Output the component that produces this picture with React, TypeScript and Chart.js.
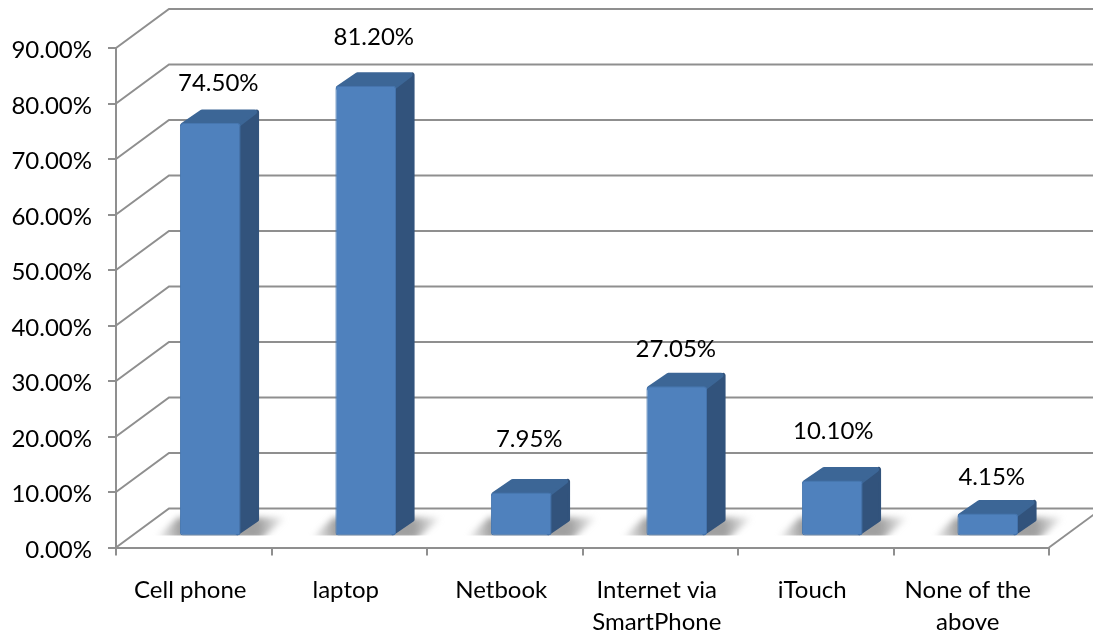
import React, { useEffect, useRef } from "react";
import { Chart, registerables } from "chart.js";

Chart.register(...registerables);

const categories: (string | string[])[] = [
  "Cell phone",
  "laptop",
  "Netbook",
  ["Internet via", "SmartPhone"],
  "iTouch",
  ["None of the", "above"],
];
const values = [74.5, 81.2, 7.95, 27.05, 10.1, 4.15];
const valueLabels = ["74.50%", "81.20%", "7.95%", "27.05%", "10.10%", "4.15%"];
const labelShiftX = [8, 8, 8, -1, 1, 4];
const labelShiftY = [-40, -49, -53, -37, -49, -36];

const WIDTH = 1093;
const HEIGHT = 633;
const FONT = "Lato, 'Open Sans', sans-serif";
const GRID = "#8f8f8f";
const WALL_DX = 53;
const WALL_DY = 39;
const BAR_DX = 16.5;
const BAR_DY = 11;
const SIDE_DX = 19;
const SIDE_DY = 14;

const poly = (ctx: CanvasRenderingContext2D, pts: number[][]) => {
  ctx.beginPath();
  pts.forEach((p, i) => (i ? ctx.lineTo(p[0], p[1]) : ctx.moveTo(p[0], p[1])));
  ctx.closePath();
};

const scene3d = {
  id: "scene3d",
  beforeDatasetsDraw(chart: any) {
    const { ctx, chartArea, scales } = chart;
    const { left, right, bottom } = chartArea;
    ctx.save();
    ctx.strokeStyle = GRID;
    ctx.lineWidth = 2;
    ctx.lineJoin = "miter";
    scales.y.ticks.forEach((t: any) => {
      const y = scales.y.getPixelForValue(t.value);
      ctx.beginPath();
      ctx.moveTo(left, y);
      ctx.lineTo(left + WALL_DX, y - WALL_DY);
      ctx.lineTo(WIDTH + 5, y - WALL_DY);
      ctx.stroke();
    });
    ctx.beginPath();
    ctx.moveTo(right, bottom);
    ctx.lineTo(right + WALL_DX, bottom - WALL_DY);
    ctx.stroke();

    const meta = chart.getDatasetMeta(0);
    meta.data.forEach((bar: any) => {
      const l = bar.x - bar.width / 2 + BAR_DX;
      const r = bar.x + bar.width / 2 + BAR_DX;
      const b = bar.base - BAR_DY;
      ctx.save();
      ctx.beginPath();
      ctx.rect(l - 30, b - 30, r - l + 90, 30);
      ctx.clip();
      const g = ctx.createLinearGradient(l - 24, 0, r + 46, 0);
      const w = r + 46 - (l - 24);
      g.addColorStop(0, "rgba(150,150,150,0)");
      g.addColorStop(24 / w, "rgba(150,150,150,0.9)");
      g.addColorStop((r - l + 24 + 18) / w, "rgba(150,150,150,0.9)");
      g.addColorStop(1, "rgba(150,150,150,0)");
      ctx.filter = "blur(3px)";
      ctx.fillStyle = g;
      poly(ctx, [
        [l - 26, b + 4],
        [l - 2, b - 18],
        [r + 46, b - 18],
        [r + 20, b + 4],
      ]);
      ctx.fill();
      ctx.restore();
    });
    ctx.restore();
  },
  beforeDatasetDraw(chart: any) {
    const { ctx } = chart;
    const meta = chart.getDatasetMeta(0);
    ctx.save();
    ctx.lineJoin = "round";
    ctx.lineWidth = 5;
    meta.data.forEach((bar: any) => {
      const l = bar.x - bar.width / 2 + BAR_DX;
      const r = bar.x + bar.width / 2 + BAR_DX;
      const t = bar.y - BAR_DY;
      const b = bar.base - BAR_DY;
      ctx.fillStyle = ctx.strokeStyle = "#32537c";
      poly(ctx, [
        [r - 3, t + 2],
        [r + SIDE_DX - 3, t - SIDE_DY + 3],
        [r + SIDE_DX - 3, b - SIDE_DY - 2],
        [r - 3, b - 3],
      ]);
      ctx.stroke();
      ctx.fill();
      ctx.fillStyle = ctx.strokeStyle = "#3c6696";
      poly(ctx, [
        [l + 3, t + 2],
        [l + SIDE_DX + 3, t - SIDE_DY + 3],
        [r + SIDE_DX - 5, t - SIDE_DY + 3],
        [r - 3, t + 2],
      ]);
      ctx.stroke();
      ctx.fill();
    });
    ctx.restore();
    ctx.save();
    ctx.translate(BAR_DX, -BAR_DY);
  },
  afterDatasetDraw(chart: any) {
    chart.ctx.restore();
  },
  afterDatasetsDraw(chart: any) {
    const { ctx } = chart;
    const meta = chart.getDatasetMeta(0);
    ctx.save();
    ctx.fillStyle = "#000";
    ctx.font = `24px ${FONT}`;
    ctx.textAlign = "center";
    ctx.textBaseline = "middle";
    meta.data.forEach((bar: any, i: number) => {
      ctx.fillText(
        valueLabels[i],
        bar.x + BAR_DX + labelShiftX[i],
        bar.y - BAR_DY + labelShiftY[i]
      );
    });
    ctx.restore();
  },
};

export default function App() {
  const ref = useRef<HTMLCanvasElement>(null);
  useEffect(() => {
    document.body.style.margin = "0";
    document.body.style.overflow = "hidden";
    const chart = new Chart(ref.current!, {
      type: "bar",
      data: {
        labels: categories as any,
        datasets: [
          {
            data: values,
            backgroundColor: "#4f81bd",
            borderColor: "#4676af",
            borderWidth: 1,
            borderRadius: 3,
            borderSkipped: false,
            barPercentage: 0.39,
            categoryPercentage: 1,
          },
        ],
      },
      options: {
        responsive: false,
        animation: false,
        devicePixelRatio: 1,
        layout: { padding: { top: 48, right: 44, left: 0, bottom: 0 } },
        plugins: { legend: { display: false }, tooltip: { enabled: false } },
        scales: {
          x: {
            afterFit: (s: any) => {
              s.height = HEIGHT - 547.5;
            },
            grid: { drawOnChartArea: false, color: GRID, lineWidth: 2, tickLength: 8 },
            border: { color: GRID, width: 2 },
            ticks: {
              color: "#000",
              font: { family: FONT, size: 24, lineHeight: 1.33 },
              maxRotation: 0,
              autoSkip: false,
              padding: 19,
              labelOffset: -3.5,
            },
          },
          y: {
            min: 0,
            max: 90,
            afterFit: (s: any) => {
              s.width = 116;
            },
            grid: { drawOnChartArea: false, color: GRID, lineWidth: 2, tickLength: 8 },
            border: { color: GRID, width: 2 },
            ticks: {
              stepSize: 10,
              color: "#000",
              font: { family: FONT, size: 24 },
              padding: 16,
              labelOffset: 2.5,
              callback: (v: any) => `${Number(v).toFixed(2)}%`,
            },
          },
        },
      },
      plugins: [scene3d as any],
    });
    return () => chart.destroy();
  }, []);
  return (
    <canvas
      ref={ref}
      width={WIDTH}
      height={HEIGHT}
      style={{ display: "block", width: WIDTH, height: HEIGHT }}
    />
  );
}
